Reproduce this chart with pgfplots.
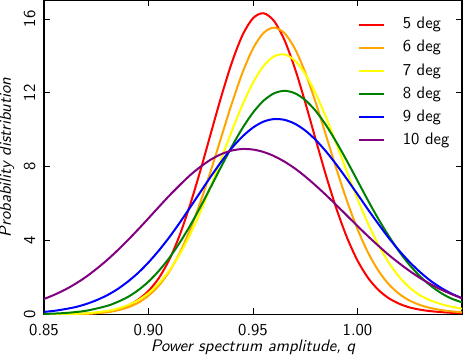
\documentclass[border=0pt]{standalone}
\usepackage{pgfplots}
\pgfplotsset{compat=1.18}
\renewcommand{\familydefault}{\sfdefault}
\definecolor{mplorange}{RGB}{255,165,0}
\definecolor{mplyellow}{RGB}{255,255,0}
\definecolor{mplgreen}{RGB}{0,128,0}
\definecolor{mplblue}{RGB}{0,0,255}
\definecolor{mplred}{RGB}{255,0,0}
\definecolor{mplpurple}{RGB}{128,0,128}
\begin{document}
\begin{tikzpicture}
\begin{axis}[
  name=ax,
  scale only axis, width=250.8pt, height=188.4pt,
  xmin=0.85, xmax=1.05, ymin=0, ymax=17,
  xtick={0.85,0.90,0.95,1.00}, xticklabels={0.85,0.90,0.95,1.00},
  ytick={0,4,8,12,16}, yticklabels={0,4,8,12,16},
  tick align=inside, major tick length=3.6pt,
  tick style={black, line width=0.5pt},
  axis line style={line width=0.7pt},
  xticklabel style={anchor=base, inner sep=0pt, yshift=-12.6pt},
  yticklabel style={xshift=-5.4pt, rotate=90, anchor=base, inner sep=0pt},
  xlabel={Power spectrum amplitude, q},
  ylabel={Probability distribution},
  xlabel style={at={(axis description cs:0.5,-0.1185)}, anchor=base, inner sep=0pt, font=\itshape},
  ylabel style={at={(axis description cs:-0.079,0.5)}, anchor=base, inner sep=0pt, font=\itshape},
  legend cell align=left,
  legend style={draw=none, fill=none, at={(axis description cs:0.752,0.96)}, anchor=north west,
    inner sep=0pt, outer sep=0pt, row sep=0pt, column sep=10.5pt,
    nodes={text height=8pt, text depth=3pt, inner ysep=1.45pt, inner xsep=0pt}},
  legend image code/.code={\draw[#1] (0pt,0pt) -- (15pt,0pt);},
  every axis plot/.append style={line width=1.2pt, smooth},
]
\addplot[mplred] coordinates {(0.85,0.00)(0.86,0.01)(0.87,0.04)(0.88,0.15)(0.885,0.27)(0.89,0.47)(0.895,0.80)(0.90,1.28)(0.905,1.98)(0.91,2.98)(0.915,4.32)(0.92,5.98)(0.925,7.86)(0.93,9.88)(0.935,11.87)(0.94,13.68)(0.945,15.13)(0.95,16.04)(0.955,16.31)(0.96,15.90)(0.965,14.87)(0.97,13.34)(0.975,11.48)(0.98,9.47)(0.985,7.50)(0.99,5.70)(0.995,4.16)(1.00,2.92)(1.005,1.99)(1.01,1.33)(1.015,0.88)(1.02,0.58)(1.025,0.38)(1.03,0.26)(1.035,0.18)(1.04,0.13)(1.045,0.09)(1.05,0.07)};
\addlegendentry{5 deg}
\addplot[mplorange] coordinates {(0.85,0.00)(0.86,0.01)(0.87,0.03)(0.88,0.12)(0.885,0.22)(0.89,0.38)(0.895,0.63)(0.90,1.02)(0.905,1.57)(0.91,2.34)(0.915,3.35)(0.92,4.62)(0.925,6.14)(0.93,7.85)(0.935,9.67)(0.94,11.47)(0.945,13.10)(0.95,14.40)(0.955,15.24)(0.96,15.53)(0.965,15.24)(0.97,14.40)(0.975,13.10)(0.98,11.47)(0.985,9.67)(0.99,7.85)(0.995,6.14)(1.00,4.62)(1.005,3.36)(1.01,2.37)(1.015,1.63)(1.02,1.11)(1.025,0.75)(1.03,0.51)(1.035,0.35)(1.04,0.24)(1.045,0.17)(1.05,0.12)};
\addlegendentry{6 deg}
\addplot[mplyellow] coordinates {(0.85,0.00)(0.86,0.02)(0.87,0.06)(0.88,0.19)(0.885,0.31)(0.89,0.50)(0.895,0.77)(0.90,1.16)(0.905,1.69)(0.91,2.39)(0.915,3.27)(0.92,4.35)(0.925,5.60)(0.93,7.00)(0.935,8.49)(0.94,9.97)(0.945,11.36)(0.95,12.55)(0.955,13.45)(0.96,13.97)(0.965,14.08)(0.97,13.75)(0.975,13.02)(0.98,11.96)(0.985,10.66)(0.99,9.21)(0.995,7.71)(1.00,6.26)(1.005,4.93)(1.01,3.77)(1.015,2.80)(1.02,2.03)(1.025,1.45)(1.03,1.03)(1.035,0.76)(1.04,0.56)(1.045,0.42)(1.05,0.31)};
\addlegendentry{7 deg}
\addplot[mplgreen] coordinates {(0.85,0.03)(0.86,0.08)(0.87,0.20)(0.88,0.46)(0.885,0.67)(0.89,0.94)(0.895,1.31)(0.90,1.78)(0.905,2.37)(0.91,3.07)(0.915,3.90)(0.92,4.83)(0.925,5.86)(0.93,6.95)(0.935,8.05)(0.94,9.12)(0.945,10.10)(0.95,10.93)(0.955,11.57)(0.96,11.97)(0.965,12.11)(0.97,11.98)(0.975,11.61)(0.98,11.02)(0.985,10.24)(0.99,9.31)(0.995,8.30)(1.00,7.24)(1.005,6.18)(1.01,5.17)(1.015,4.24)(1.02,3.40)(1.025,2.67)(1.03,2.06)(1.035,1.56)(1.04,1.16)(1.045,0.86)(1.05,0.66)};
\addlegendentry{8 deg}
\addplot[mplblue] coordinates {(0.85,0.14)(0.855,0.20)(0.86,0.29)(0.865,0.40)(0.87,0.56)(0.875,0.77)(0.88,1.03)(0.885,1.36)(0.89,1.77)(0.895,2.25)(0.90,2.82)(0.905,3.47)(0.91,4.19)(0.915,4.98)(0.92,5.81)(0.925,6.66)(0.93,7.50)(0.935,8.30)(0.94,9.03)(0.945,9.64)(0.95,10.12)(0.955,10.44)(0.96,10.58)(0.965,10.54)(0.97,10.33)(0.975,9.96)(0.98,9.45)(0.985,8.82)(0.99,8.10)(0.995,7.32)(1.00,6.51)(1.005,5.69)(1.01,4.90)(1.015,4.14)(1.02,3.45)(1.025,2.83)(1.03,2.29)(1.035,1.82)(1.04,1.44)(1.045,1.13)(1.05,0.88)};
\addlegendentry{9 deg}
\addplot[mplpurple] coordinates {(0.85,0.84)(0.855,1.07)(0.86,1.34)(0.865,1.66)(0.87,2.03)(0.875,2.46)(0.88,2.93)(0.885,3.45)(0.89,4.01)(0.895,4.60)(0.90,5.21)(0.905,5.83)(0.91,6.44)(0.915,7.01)(0.92,7.55)(0.925,8.01)(0.93,8.40)(0.935,8.69)(0.94,8.88)(0.945,8.96)(0.95,8.93)(0.955,8.80)(0.96,8.58)(0.965,8.28)(0.97,7.91)(0.975,7.47)(0.98,6.98)(0.985,6.46)(0.99,5.91)(0.995,5.35)(1.00,4.79)(1.005,4.24)(1.01,3.72)(1.015,3.22)(1.02,2.77)(1.025,2.35)(1.03,1.97)(1.035,1.64)(1.04,1.35)(1.045,1.10)(1.05,0.88)};
\addlegendentry{10 deg}
\end{axis}
\pgfresetboundingbox
\path ([shift={(-26.4pt,-27pt)}]ax.south west) rectangle ([shift={(0.6pt,0.3pt)}]ax.north east);
\end{tikzpicture}
\end{document}
